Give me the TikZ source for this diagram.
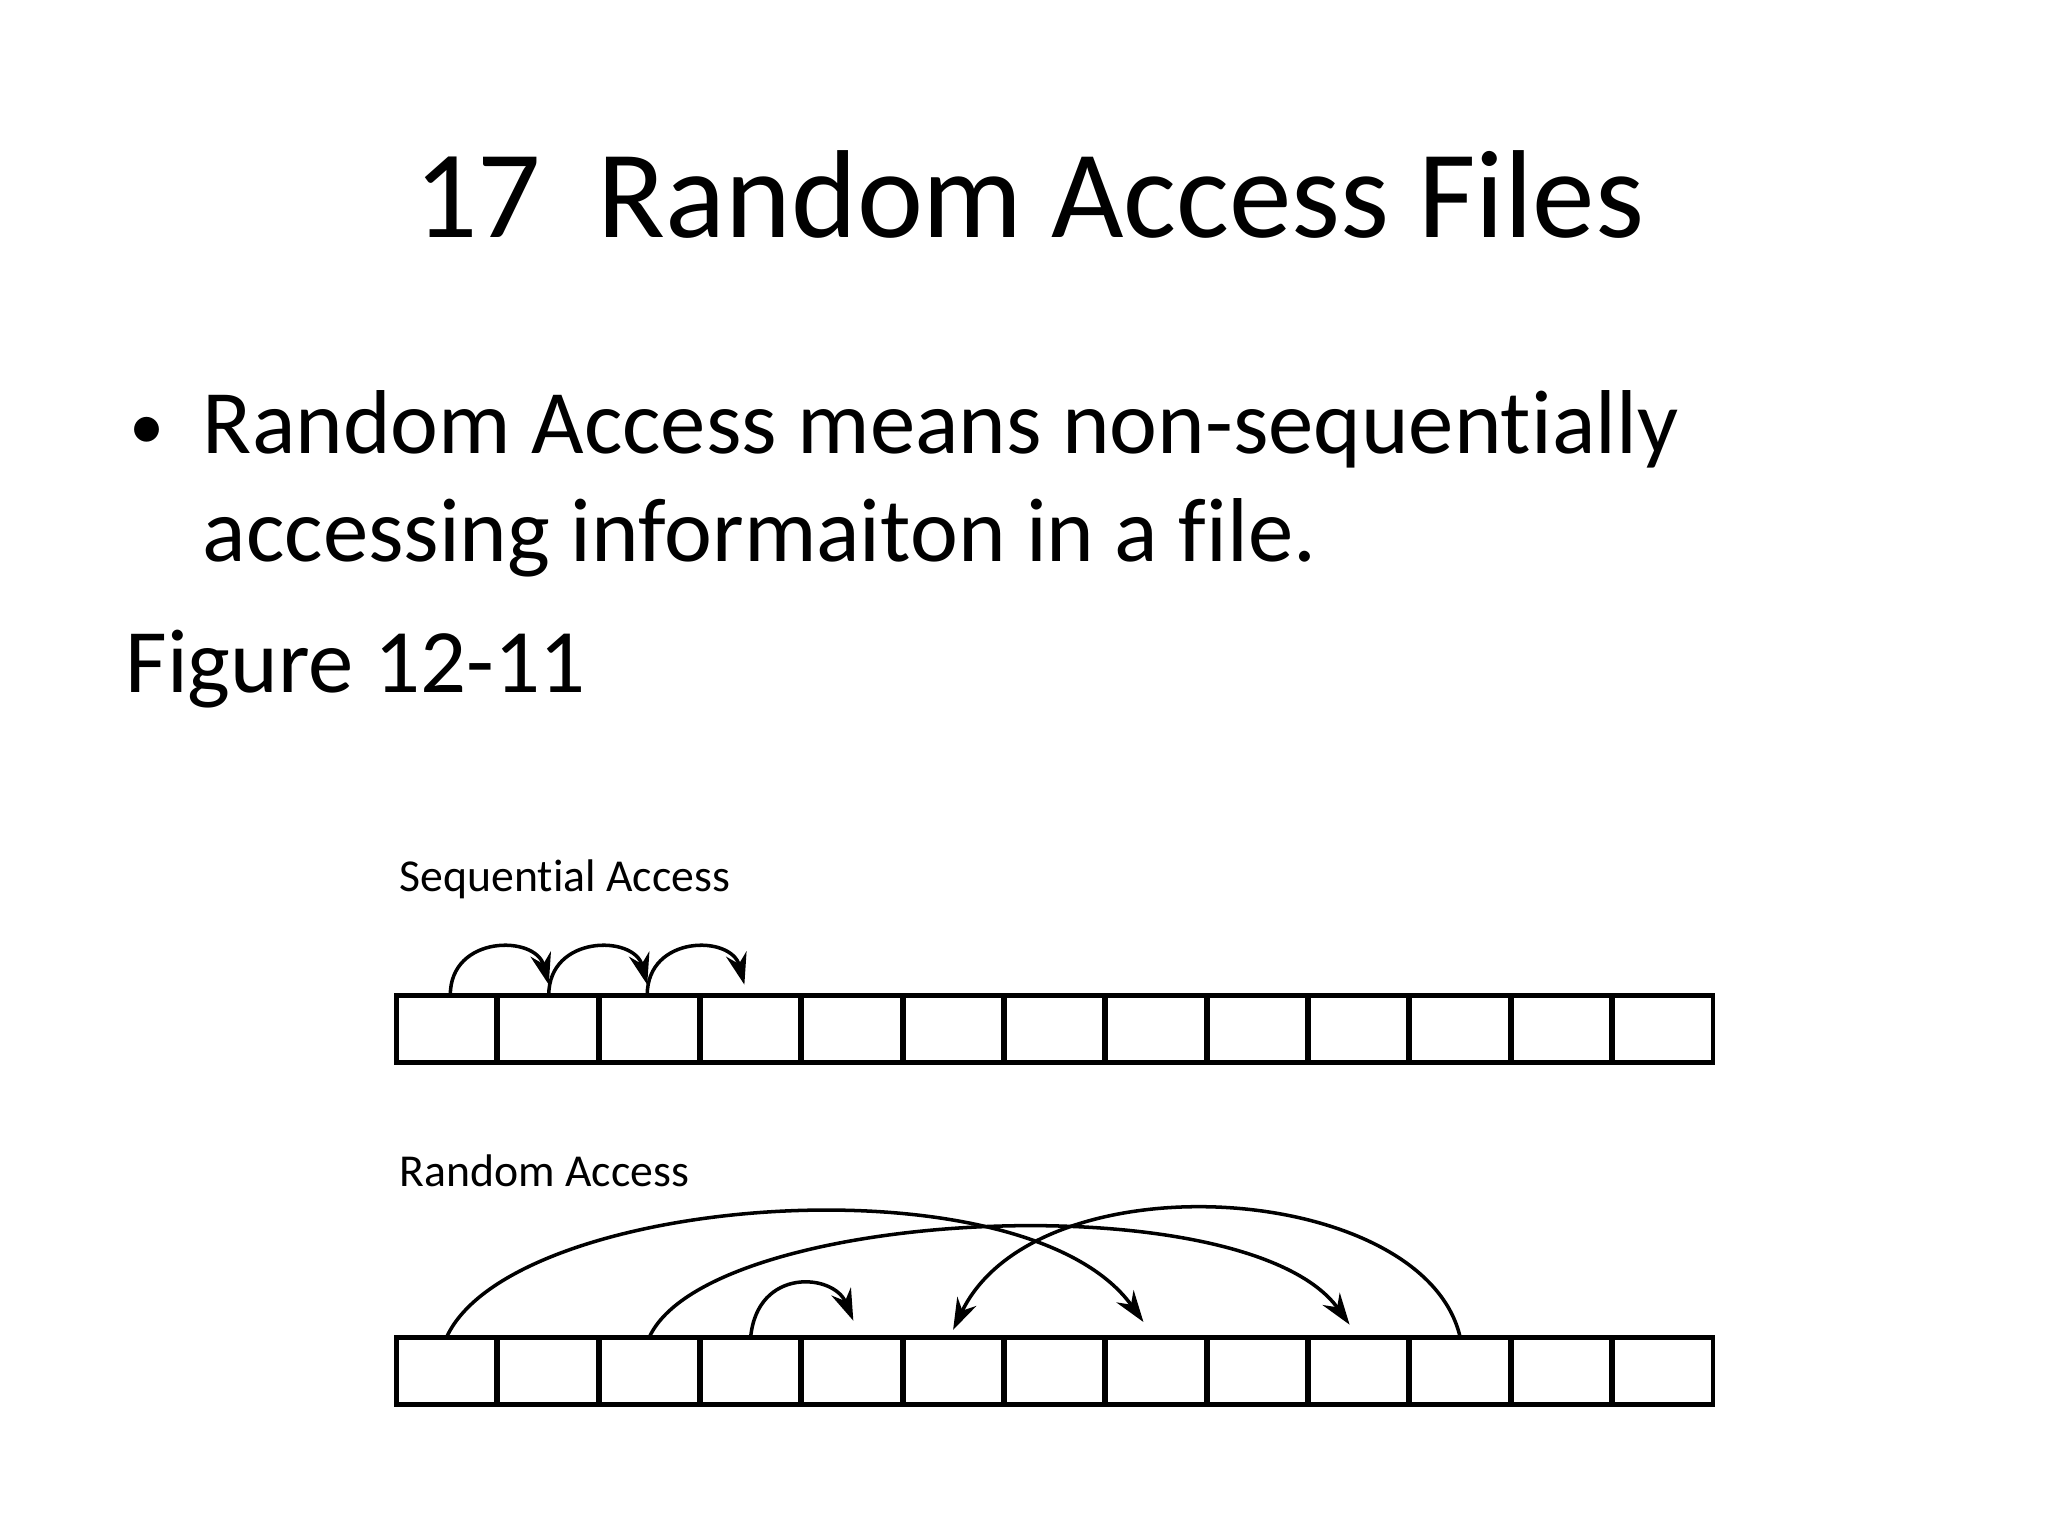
\documentclass[tikz,border=0pt]{standalone}
\usepackage{fontspec}
\setmainfont{Carlito}[Ligatures=NoCommon]
\usetikzlibrary{arrows.meta}
\begin{document}
\begin{tikzpicture}[x=0.013128cm,y=-0.013128cm,
  cell/.style={draw,line width=1.4pt,minimum width=76.4*0.013128cm,minimum height=51*0.013128cm,inner sep=0,outer sep=0},
  arc/.style={line width=1pt,-{Stealth[length=9pt,width=6pt]}},
  lab/.style={anchor=west,font=\fontsize{13}{15}\selectfont,inner sep=0}]
\useasboundingbox (0,0) rectangle (1560,1170);
\node (title) at (784,148) {\fontsize{35.6}{42}\selectfont 17\ \ Random Access Files};
\node[inner sep=0] (b1) at (112,330) {\fontsize{20}{24}\selectfont •};
\node[anchor=west,inner sep=0] (t1) at (154,327) {\fontsize{25.8}{30}\selectfont Random Access means non-sequentially};
\node[anchor=west,inner sep=0] (t2) at (154,410) {\fontsize{25.8}{30}\selectfont accessing informaiton in a file.};
\node[anchor=west,inner sep=0] (t3) at (95,510) {\fontsize{25.8}{30}\selectfont Figure 12-11};
\node[lab] (ls) at (304,670) {Sequential Access};
\node[lab] (lr) at (304,892) {Random Access};
\foreach \i in {0,...,12}{
  \node[cell] (s\i) at ({340.2+77.2*\i},784) {};
  \node[cell] (r\i) at ({340.2+77.2*\i},1044) {};
}
% sequential arcs
\coordinate (e1) at (418,750);
\coordinate (e2) at (493,750);
\coordinate (e3) at (567,750);
\draw[arc] (343,758) .. controls (343,712) and (408,712) .. (e1);
\draw[arc] (418,758) .. controls (418,712) and (483,712) .. (e2);
\draw[arc] (493,758) .. controls (493,712) and (557,712) .. (e3);
% random arcs
\coordinate (f1) at (871,1007);
\coordinate (f2) at (1028,1009);
\coordinate (f3) at (650,1006);
\coordinate (f4) at (726,1013);
\draw[arc] (r0.north) .. controls (390,910) and (780,880) .. (f1);
\draw[arc] (r2.north) .. controls (540,920) and (950,900) .. (f2);
\draw[arc] (r3.north) .. controls (577,965) and (635,970) .. (f3);
\draw[arc] (r10.north) .. controls (1085,900) and (790,880) .. (f4);
\end{tikzpicture}
\end{document}
